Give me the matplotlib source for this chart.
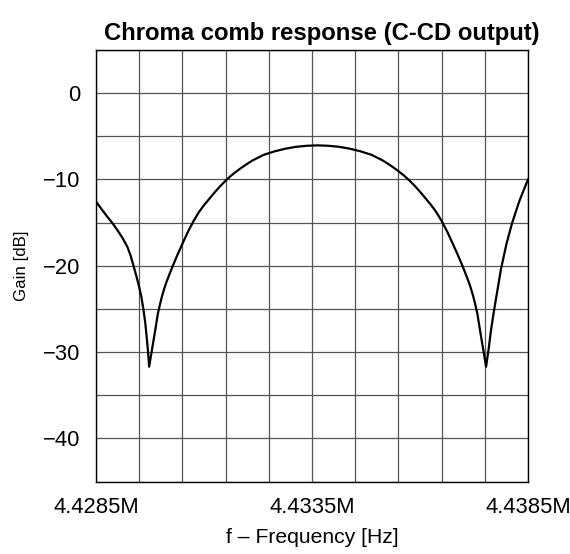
import matplotlib
matplotlib.use("Agg")
import matplotlib.pyplot as plt
from matplotlib.ticker import MultipleLocator

plt.rcParams['font.family'] = ['Liberation Sans', 'DejaVu Sans']

# Frequency in Hz and gain in dB
freq_hz = [
    # outer lobe, left of first notch
    4428500, 4428630, 4428762, 4428878, 4428993, 4429110, 4429225, 4429300,
    4429365, 4429440, 4429496, 4429550, 4429596, 4429640, 4429674, 4429705,
    # main lobe
    4429730, 4429780, 4429830, 4429880, 4429930, 4429980, 4430030, 4430080,
    4430130, 4430270, 4430380, 4430510, 4430630, 4430755, 4430880, 4431005,
    4431130, 4431255, 4431380, 4431520, 4431630, 4431755, 4431880, 4432005,
    4432130, 4432380, 4432630, 4432880, 4433130, 4433380, 4433630, 4433880,
    4434130, 4434380, 4434630, 4434880, 4435130, 4435255, 4435380, 4435505,
    4435630, 4435740, 4435880, 4436005, 4436130, 4436255, 4436380, 4436505,
    4436630, 4436750, 4436880, 4436990, 4437130, 4437180, 4437230, 4437280,
    4437330, 4437380, 4437430, 4437480, 4437530,
    # outer lobe, right of second notch
    4437590, 4437640, 4437700, 4437780, 4437874, 4438000, 4438129, 4438300,
    4438500,
]
gain_db = [
    -12.55, -13.45, -14.32, -15.05, -15.86, -16.75, -17.80, -18.80,
    -19.95, -21.30, -22.40, -23.60, -25.00, -26.60, -28.30, -30.00,
    -31.70, -30.20, -28.70, -27.20, -25.60, -24.50, -23.50, -22.65,
    -21.90, -20.10, -18.80, -17.35, -16.05, -14.85, -13.80, -12.95,
    -12.20, -11.45, -10.75, -10.05, -9.55, -9.05, -8.60, -8.17,
    -7.78, -7.15, -6.75, -6.44, -6.22, -6.10, -6.05, -6.10,
    -6.22, -6.44, -6.75, -7.15, -7.78, -8.17, -8.60, -9.05,
    -9.55, -10.05, -10.75, -11.45, -12.20, -12.95, -13.80, -14.85,
    -16.05, -17.35, -18.80, -20.10, -21.90, -22.65, -23.50, -24.50,
    -25.60, -27.20, -28.70, -30.20, -31.70,
    -29.60, -27.60, -25.60, -23.20, -20.40, -17.50, -15.10, -12.50,
    -10.00,
]

x_ticks = [4428500, 4433500, 4438500]
x_tick_labels = ["4.4285M", "4.4335M", "4.4385M"]
y_ticks = [0, -10, -20, -30, -40]
y_tick_labels = ["0", "\u221210", "\u221220", "\u221230", "\u221240"]

fig = plt.figure(figsize=(5.70, 5.54), dpi=100)
ax = fig.add_axes([96/570, 1 - 481.5/554, (528 - 96)/570, (481.5 - 50)/554])

ax.plot(freq_hz, gain_db, color='black', lw=1.6, solid_joinstyle='round', zorder=3)

ax.set_xlim(4428500, 4438500)
ax.set_ylim(-45, 5)

ax.set_xticks(x_ticks)
ax.set_xticklabels(x_tick_labels)
ax.set_yticks(y_ticks)
ax.set_yticklabels(y_tick_labels)
ax.xaxis.set_minor_locator(MultipleLocator(1000, offset=500))
ax.yaxis.set_minor_locator(MultipleLocator(5))
ax.grid(which='both', color='#555555', lw=0.9)
ax.set_axisbelow(True)

ax.tick_params(which='both', length=0, labelsize=15.8, pad=11.5, colors='black')
for s in ax.spines.values():
    s.set_color('black')
    s.set_linewidth(1.0)

ax.set_title("Chroma comb response (C-CD output)", fontsize=17.2, fontweight='bold',
             pad=7, x=0.523)
ax.set_xlabel("f \u2013 Frequency [Hz]", fontsize=15.2, labelpad=7)
ax.set_ylabel("Gain [dB]", fontsize=12.2)
ax.yaxis.set_label_coords(-0.155, 0.5)

fig.savefig("out.png", dpi=100)
